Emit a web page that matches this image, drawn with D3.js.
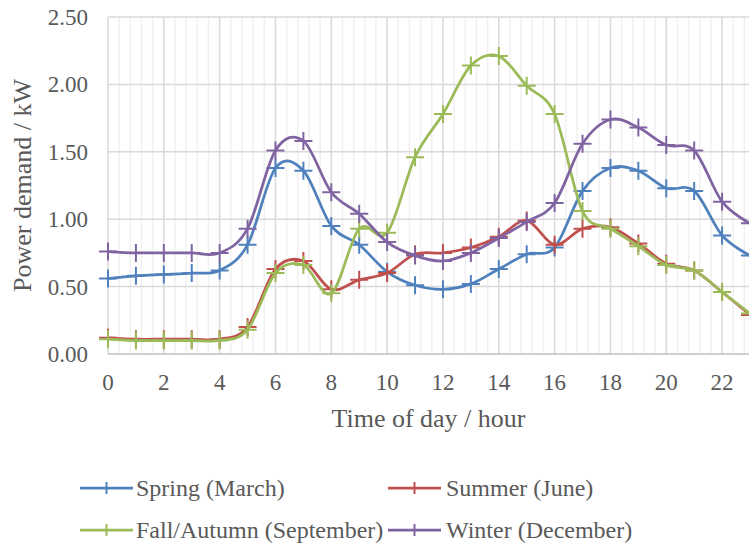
<!DOCTYPE html>
<html>
<head>
<meta charset="utf-8">
<script src="https://cdn.jsdelivr.net/npm/d3@7"></script>
<style>
  html, body { margin: 0; padding: 0; background: #fff; }
  svg { display: block; }
  svg text { font-family: "Liberation Serif", "Times New Roman", Times, "DejaVu Serif", serif; }
</style>
</head>
<body>
<svg id="chart" width="749" height="544"></svg>
<script>
// Hourly household power demand per season (kW)
const hours = [0,1,2,3,4,5,6,7,8,9,10,11,12,13,14,15,16,17,18,19,20,21,22,23];
const spring = [0.56,0.58,0.59,0.60,0.62,0.81,1.38,1.36,0.95,0.81,0.61,0.51,0.48,0.52,0.63,0.74,0.79,1.21,1.38,1.36,1.23,1.21,0.88,0.73];
const summer = [0.12,0.11,0.11,0.11,0.11,0.20,0.63,0.69,0.48,0.55,0.60,0.74,0.75,0.79,0.87,0.99,0.81,0.93,0.94,0.82,0.67,0.62,0.46,0.29];
const fall   = [0.11,0.10,0.10,0.10,0.10,0.18,0.60,0.66,0.45,0.93,0.90,1.46,1.78,2.14,2.21,1.99,1.78,1.06,0.93,0.80,0.66,0.62,0.46,0.30];
const winter = [0.76,0.75,0.75,0.75,0.75,0.93,1.51,1.58,1.20,1.04,0.83,0.73,0.69,0.75,0.86,0.98,1.12,1.56,1.74,1.68,1.55,1.51,1.13,0.97];

const seriesNames = ["Spring (March)", "Summer (June)", "Fall/Autumn (September)", "Winter (December)"];
const seriesValues = [spring, summer, fall, winter];
const seriesColors = ["#4F81BD", "#C0504D", "#9BBB59", "#8064A2"];

const xTicks = [0,2,4,6,8,10,12,14,16,18,20,22];
const yTicks = [0,0.5,1,1.5,2,2.5];

const svg = d3.select("#chart");
const plotLeft = 108, plotRight = 750, plotTop = 17, plotBottom = 354;
const fontFamily = "'Liberation Serif', 'Times New Roman', Times, 'DejaVu Serif', serif";

const x = d3.scaleLinear().domain([0, 23]).range([plotLeft, plotRight]);
const y = d3.scaleLinear().domain([0, 2.5]).range([plotBottom, plotTop]);

const textColor = "#595959";

// Minor vertical gridlines (every 0.4 h)
const minor = d3.range(0, 23.001, 0.4).filter(v => Math.abs(v / 2 - Math.round(v / 2)) > 1e-6);
svg.append("g").selectAll("line").data(minor).join("line")
  .attr("x1", d => x(d)).attr("x2", d => x(d))
  .attr("y1", plotTop).attr("y2", plotBottom)
  .attr("stroke", "#f0f0f0").attr("stroke-width", 1.5);

// Major vertical gridlines
svg.append("g").selectAll("line").data(xTicks).join("line")
  .attr("x1", d => x(d)).attr("x2", d => x(d))
  .attr("y1", plotTop).attr("y2", plotBottom)
  .attr("stroke", "#d9d9d9").attr("stroke-width", 1.5);

// Horizontal gridlines
svg.append("g").selectAll("line").data(yTicks.slice(1)).join("line")
  .attr("x1", plotLeft).attr("x2", plotRight)
  .attr("y1", d => y(d)).attr("y2", d => y(d))
  .attr("stroke", "#d9d9d9").attr("stroke-width", 1.5);

// X axis line
svg.append("line")
  .attr("x1", plotLeft).attr("x2", plotRight)
  .attr("y1", plotBottom).attr("y2", plotBottom)
  .attr("stroke", "#bfbfbf").attr("stroke-width", 1.5);

// Y tick labels
svg.append("g").selectAll("text").data(yTicks).join("text")
  .attr("x", 88).attr("y", d => y(d))
  .attr("dy", "0.35em")
  .attr("text-anchor", "end")
  .attr("font-family", fontFamily)
  .attr("font-size", 23).attr("fill", textColor)
  .text(d => d3.format(".2f")(d));

// X tick labels
svg.append("g").selectAll("text").data(xTicks).join("text")
  .attr("x", d => x(d)).attr("y", 390)
  .attr("text-anchor", "middle")
  .attr("font-family", fontFamily)
  .attr("font-size", 23).attr("fill", textColor)
  .text(d => d);

// Axis titles
svg.append("text")
  .attr("x", (plotLeft + 749) / 2).attr("y", 427)
  .attr("text-anchor", "middle")
  .attr("font-family", fontFamily)
  .attr("font-size", 26).attr("fill", textColor)
  .text("Time of day / hour");

svg.append("text")
  .attr("transform", `translate(31, ${(plotTop + plotBottom) / 2}) rotate(-90)`)
  .attr("text-anchor", "middle")
  .attr("font-family", fontFamily)
  .attr("font-size", 26).attr("fill", textColor)
  .text("Power demand / kW");

// Series: smoothed line with "+" markers
const line = d3.line()
  .x((d, i) => x(hours[i]))
  .y(d => y(d))
  .curve(d3.curveCardinal.tension(0));

const m = 9;
seriesValues.forEach((vals, k) => {
  const g = svg.append("g");
  g.append("path")
    .attr("d", line(vals))
    .attr("fill", "none")
    .attr("stroke", seriesColors[k])
    .attr("stroke-width", 2.75)
    .attr("stroke-linejoin", "round");
  g.selectAll("path.marker").data(vals).join("path")
    .attr("class", "marker")
    .attr("d", (d, i) => {
      const cx = x(hours[i]), cy = y(d);
      return `M${cx - m},${cy}H${cx + m}M${cx},${cy - m}V${cy + m}`;
    })
    .attr("stroke", seriesColors[k])
    .attr("stroke-width", 2);
});

// Legend (two columns, two rows)
const legendPos = [
  { lx: 80, tx: 136, y: 488 },
  { lx: 388, tx: 446, y: 488 },
  { lx: 80, tx: 136, y: 530 },
  { lx: 388, tx: 446, y: 530 }
];
seriesNames.forEach((name, k) => {
  const p = legendPos[k];
  const g = svg.append("g");
  g.append("line")
    .attr("x1", p.lx).attr("x2", p.lx + 53)
    .attr("y1", p.y).attr("y2", p.y)
    .attr("stroke", seriesColors[k]).attr("stroke-width", 2.75);
  const cx = p.lx + 26.5;
  g.append("path")
    .attr("d", `M${cx - 6},${p.y}H${cx + 6}M${cx},${p.y - 6}V${p.y + 6}`)
    .attr("stroke", seriesColors[k]).attr("stroke-width", 2);
  g.append("text")
    .attr("x", p.tx).attr("y", p.y)
    .attr("dy", "0.33em")
    .attr("font-family", fontFamily)
    .attr("font-size", 24).attr("fill", textColor)
    .text(name);
});
</script>
</body>
</html>
